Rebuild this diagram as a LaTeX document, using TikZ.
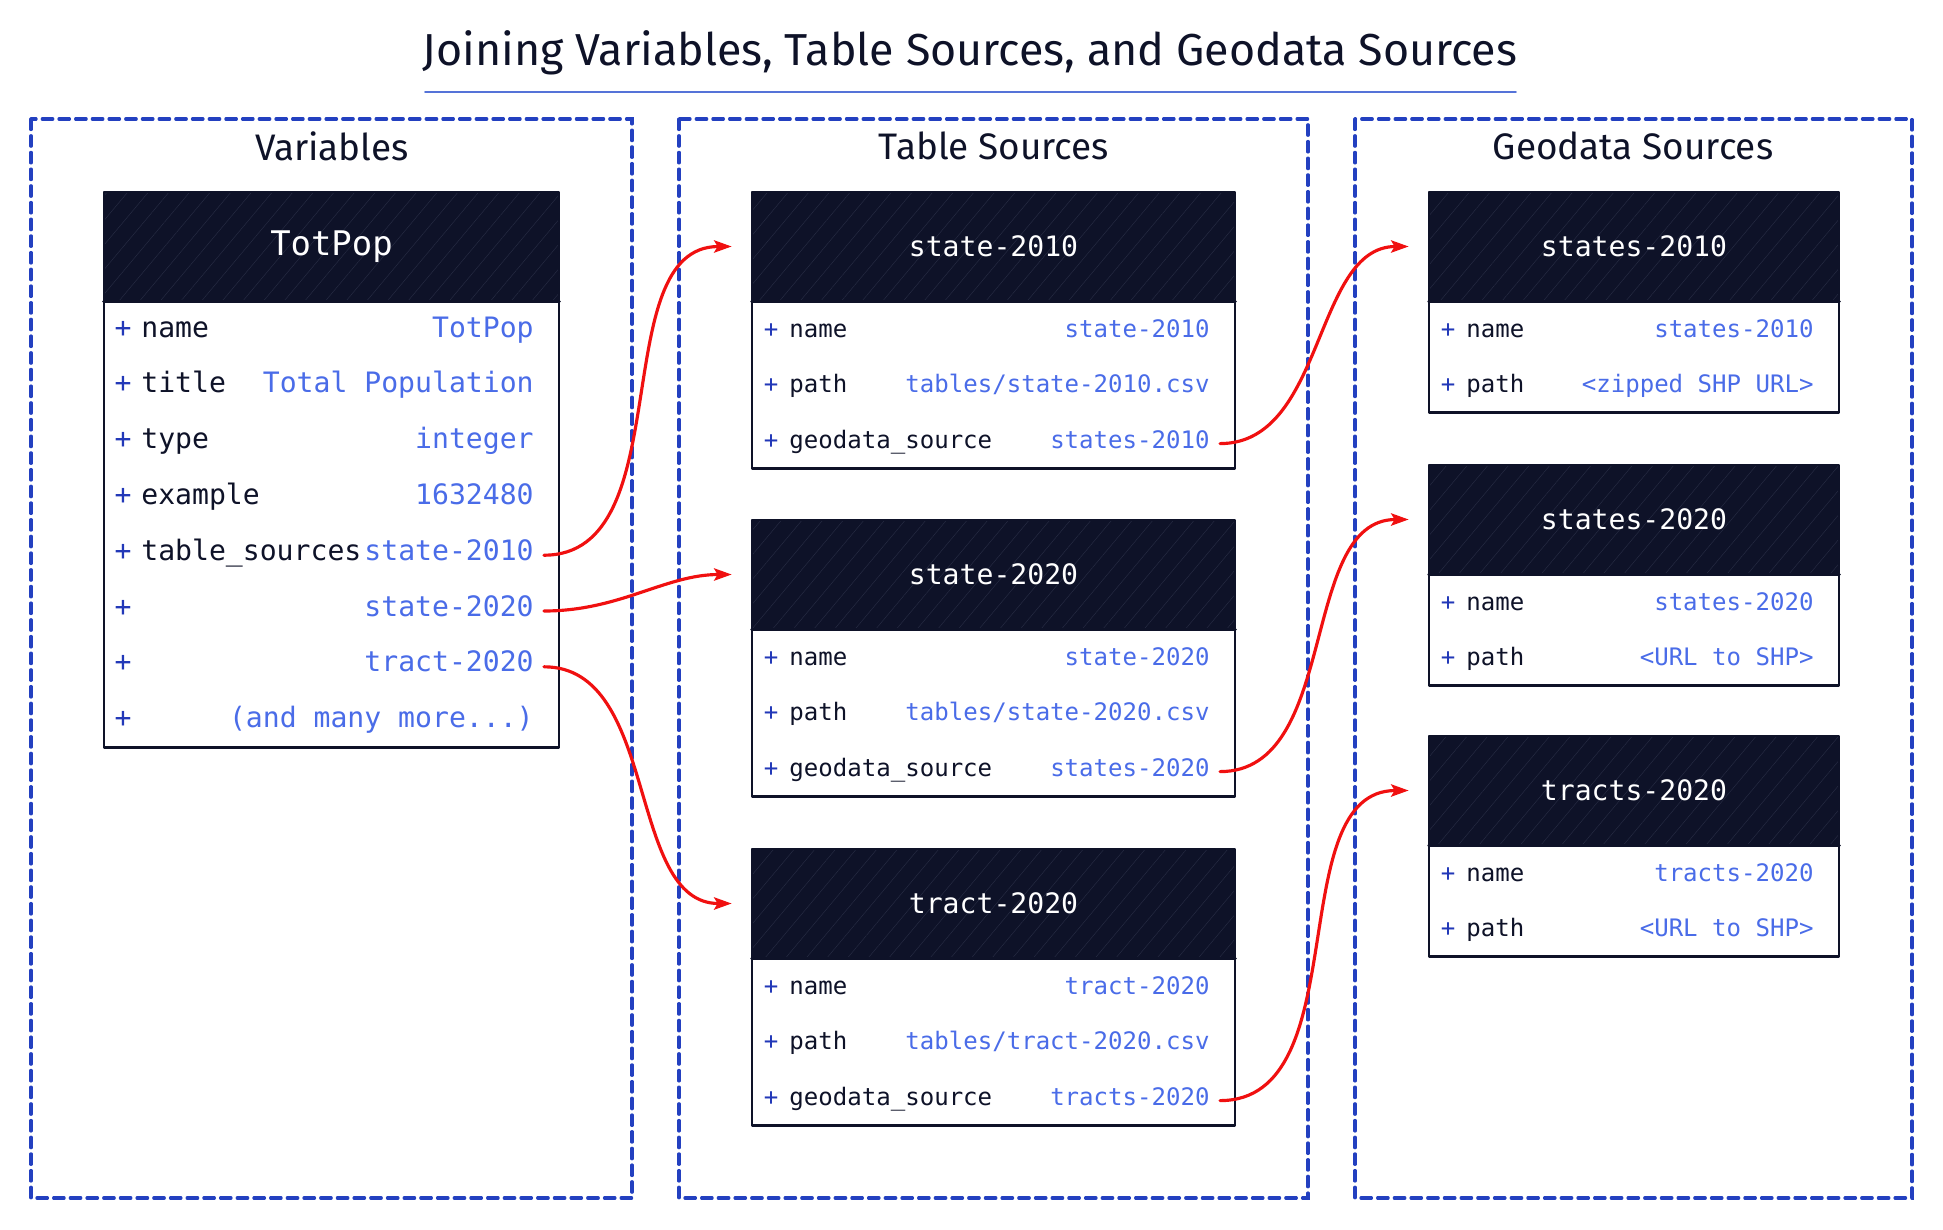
\documentclass[tikz,border=0pt]{standalone}
\usepackage{fontspec}
\setmainfont{Fira Sans}
\setmonofont{DejaVu Sans Mono}
\usetikzlibrary{arrows.meta, patterns.meta}
\tikzset{>={Stealth[length=10pt, width=7pt, inset=2pt]}}
\definecolor{navy}{HTML}{0E1228}
\definecolor{hatch}{HTML}{272C44}
\definecolor{frameblue}{HTML}{2340C0}
\definecolor{valblue}{HTML}{4A6CE8}
\definecolor{plusblue}{HTML}{2238B8}
\definecolor{linkred}{HTML}{F01010}
\definecolor{rulecol}{HTML}{5573D8}
\tikzset{
	title/.style={font=\fontsize{25.5}{30}\selectfont, text=navy},
	group/.style={draw=frameblue, line width=1.8pt, dash pattern=on 6pt off 3.5pt},
	grouplabel/.style={font=\fontsize{21}{25}\selectfont, text=navy},
	frame/.style={draw=navy, line width=1.6pt, line join=round},
	headbox/.style={inner sep=0pt, font=\ttfamily\fontsize{16}{19}\selectfont, text=white},
	rowtext/.style={inner sep=0pt, text height=1.55ex, text depth=.45ex, font=\ttfamily\fontsize{13.7}{16}\selectfont},
	key/.style={rowtext, anchor=west, text=navy},
	val/.style={rowtext, anchor=east, text=valblue},
	plus/.style={rowtext, text=plusblue},
	link/.style={->, draw=linkred, line width=1.8pt, shorten >=0.4cm, shorten <=0.2cm},
}
% #1 name, #2 left, #3 top, #4 right, #5 rows, #6 title
\newcommand{\entity}[6]{%
	\pgfmathsetmacro{\eleft}{#2}%
	\pgfmathsetmacro{\eright}{#4}%
	\pgfmathsetmacro{\etop}{#3}%
	\pgfmathsetmacro{\ebot}{#3+109+#5*55.8}%
	\fill[white] (#2,#3) rectangle (#4,\ebot);
	\fill[navy] (#2,#3) rectangle (#4,{#3+109});
	\fill[pattern={Lines[angle=50, distance=9pt, line width=.25pt]}, pattern color=hatch] (#2,#3) rectangle (#4,{#3+109});
	\node[headbox, minimum width={(#4-#2)*0.02cm}, minimum height=2.18cm] (#1) at ({(#2+#4)/2},{#3+54.5}) {#6};
	\draw[frame] (#2,#3) rectangle (#4,\ebot);
	\draw[frame] (#1.south west) -- (#1.south east);
}
% #1 name, #2 row, #3 key, #4 value
\newcommand{\field}[4]{%
	\pgfmathsetmacro{\fy}{\etop+140+(#2-1)*55.8}%
	\node[plus] (#1-p) at ({\eleft+19},\fy) {+};
	\node[key] (#1-k) at ({\eleft+37},\fy) {#3};
	\node[val] (#1) at ({\eright-25},\fy) {#4};
}
\begin{document}
\begin{tikzpicture}[x=0.02cm, y=-0.02cm, line cap=round]
	\useasboundingbox (0,0) rectangle (1943,1230);
	
	% Title
	\node[title] (title) at (970,53) {Joining Variables, Table Sources, and Geodata Sources};
	\draw[rulecol, line width=0.9pt] (425,92) -- (1516,92);
	
	% Variables
	\draw[group] (31,119) rectangle (632,1198);
	\node[grouplabel] (lbl-var) at (332,146) {Variables};
	\begin{scope}[rowtext/.append style={font=\ttfamily\fontsize{16}{19}\selectfont}, headbox/.append style={font=\ttfamily\fontsize{19.3}{23}\selectfont}]
		\entity{totpop}{104}{192}{559}{8}{TotPop}
		\field{tp-name}{1}{name}{TotPop}
		\field{tp-title}{2}{title}{Total Population}
		\field{tp-type}{3}{type}{integer}
		\field{tp-ex}{4}{example}{1632480}
		\field{tp-ts1}{5}{table\_sources}{state-2010}
		\field{tp-ts2}{6}{}{state-2020}
		\field{tp-ts3}{7}{}{tract-2020}
		\field{tp-more}{8}{}{(and many more...)}
	\end{scope}
	
	% Table Sources
	\draw[group] (679,119) rectangle (1308,1198);
	\node[grouplabel] (lbl-tab) at (994,146) {Table Sources};
	\entity{s2010}{752}{192}{1235}{3}{state-2010}
	\field{s2010-name}{1}{name}{state-2010}
	\field{s2010-path}{2}{path}{tables/state-2010.csv}
	\field{s2010-geo}{3}{geodata\_source}{states-2010}
	
	\entity{s2020}{752}{520}{1235}{3}{state-2020}
	\field{s2020-name}{1}{name}{state-2020}
	\field{s2020-path}{2}{path}{tables/state-2020.csv}
	\field{s2020-geo}{3}{geodata\_source}{states-2020}
	
	\entity{t2020}{752}{849}{1235}{3}{tract-2020}
	\field{t2020-name}{1}{name}{tract-2020}
	\field{t2020-path}{2}{path}{tables/tract-2020.csv}
	\field{t2020-geo}{3}{geodata\_source}{tracts-2020}
	
	% Geodata Sources
	\draw[group] (1355,119) rectangle (1912,1198);
	\node[grouplabel] (lbl-geo) at (1633,146) {Geodata Sources};
	\entity{gs2010}{1429}{192}{1839}{2}{states-2010}
	\field{gs2010-name}{1}{name}{states-2010}
	\field{gs2010-path}{2}{path}{<zipped SHP URL>}
	
	\entity{gs2020}{1429}{465}{1839}{2}{states-2020}
	\field{gs2020-name}{1}{name}{states-2020}
	\field{gs2020-path}{2}{path}{<URL to SHP>}
	
	\entity{gt2020}{1429}{736}{1839}{2}{tracts-2020}
	\field{gt2020-name}{1}{name}{tracts-2020}
	\field{gt2020-path}{2}{path}{<URL to SHP>}
	
	% Links
	\draw[link] (tp-ts1) to[out=0, in=180] (s2010);
	\draw[link] (tp-ts2) to[out=0, in=180] (s2020);
	\draw[link] (tp-ts3) to[out=0, in=180] (t2020);
	\draw[link] (s2010-geo) to[out=0, in=180] (gs2010);
	\draw[link] (s2020-geo) to[out=0, in=180] (gs2020);
	\draw[link] (t2020-geo) to[out=0, in=180] (gt2020);
\end{tikzpicture}
\end{document}
